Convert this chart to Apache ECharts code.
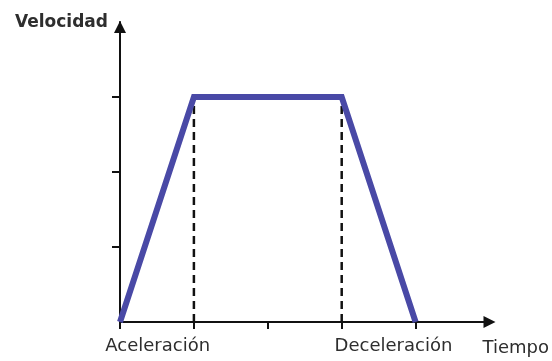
<!DOCTYPE html>
<html>
<head>
<meta charset="utf-8">
<script src="https://cdn.jsdelivr.net/npm/echarts@6/dist/echarts.min.js"></script>
<style>
  html, body { margin: 0; padding: 0; background: #fff; }
  #chart { width: 552px; height: 361px; }
</style>
</head>
<body>
<div id="chart"></div>
<script>
// perfil trapezoidal de velocidad
const perfilX = [0, 1, 3, 4];
const perfilY = [0, 3, 3, 0];
// lineas discontinuas al final de la aceleración y al inicio de la deceleración
const guiaX = [1, 3];
const guiaTop = 3;
// etiquetas de fase bajo el eje x
const faseNombres = ["Aceleración", "Deceleración"];
const faseX = [0.51, 3.7];
// ticks
const ticksX = [0, 1, 2, 3, 4];
const ticksY = [1, 2, 3];

const AZUL = "#4949a6";
const NEGRO = "#111";
const TEXTO = "#2e2e2e";
const FUENTE = "DejaVu Sans";

const chart = echarts.init(document.getElementById("chart"));

const perfil = perfilX.map((x, i) => [x, perfilY[i]]);
const guias = guiaX.map((x) => ({
  type: "line",
  data: [[x, 0], [x, guiaTop]],
  symbol: "none",
  silent: true,
  lineStyle: { color: NEGRO, width: 2.5, type: [8, 5] },
  z: 1,
}));

chart.setOption({
  animation: false,
  grid: { left: 120, right: 62, top: 22, bottom: 39 },
  xAxis: {
    type: "value",
    min: 0,
    max: 5,
    interval: 1,
    name: "Tiempo",
    nameLocation: "end",
    nameGap: -7,
    nameTextStyle: {
      color: TEXTO, fontFamily: FUENTE, fontSize: 18,
      align: "left", verticalAlign: "top", padding: [17, 0, 0, 0],
    },
    axisLine: { lineStyle: { color: NEGRO, width: 2 }, symbol: ["none", "triangle"], symbolSize: [12, 12] },
    axisTick: { show: true, length: 7, customValues: ticksX, lineStyle: { color: NEGRO, width: 2 } },
    axisLabel: { show: false },
    splitLine: { show: false },
  },
  yAxis: {
    type: "value",
    min: 0,
    max: 4,
    interval: 1,
    name: "Velocidad",
    nameLocation: "end",
    nameGap: -1,
    nameTextStyle: {
      color: TEXTO, fontFamily: FUENTE, fontSize: 17, fontWeight: "bold",
      align: "right", verticalAlign: "middle", padding: [0, 12, 0, 0],
    },
    axisLine: {
      lineStyle: { color: NEGRO, width: 2 },
      symbol: ["none", "triangle"],
      symbolSize: [12, 12],
      symbolOffset: [0, -5],
    },
    axisTick: { show: true, length: 8, customValues: ticksY, lineStyle: { color: NEGRO, width: 2 } },
    axisLabel: { show: false },
    splitLine: { show: false },
  },
  series: [
    ...guias,
    {
      type: "line",
      data: perfil,
      symbol: "none",
      lineStyle: { color: AZUL, width: 6, join: "miter" },
      z: 3,
    },
    {
      type: "scatter",
      data: faseX.map((x, i) => ({ value: [x, 0], name: faseNombres[i] })),
      symbolSize: 0,
      silent: true,
      itemStyle: { opacity: 1 },
      label: {
        show: true,
        position: "bottom",
        distance: 15,
        formatter: "{b}",
        color: TEXTO,
        opacity: 1,
        fontFamily: FUENTE,
        fontSize: 18,
      },
    },
  ],
});
</script>
</body>
</html>
